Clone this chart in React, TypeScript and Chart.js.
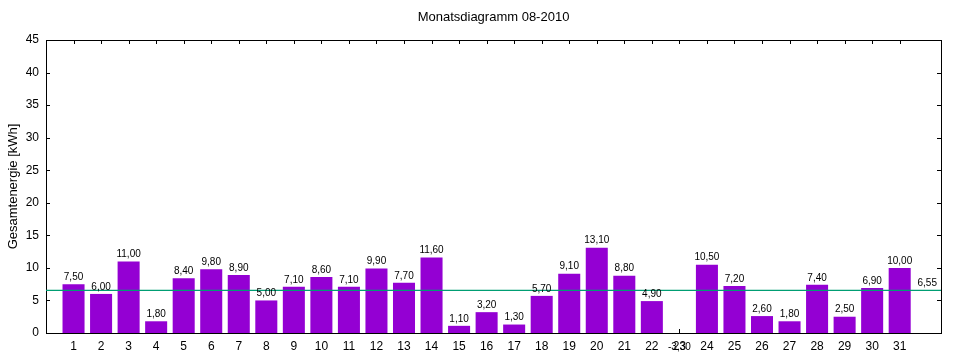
import React, { useEffect, useRef } from "react";
import { Chart, registerables } from "chart.js";

Chart.register(...registerables);

const TITLE = "Monatsdiagramm 08-2010";
const Y_TITLE = "Gesamtenergie [kWh]";
const DAYS = [1, 2, 3, 4, 5, 6, 7, 8, 9, 10, 11, 12, 13, 14, 15, 16, 17, 18, 19, 20, 21, 22, 23, 24, 25, 26, 27, 28, 29, 30, 31];
const ENERGY = [7.5, 6.0, 11.0, 1.8, 8.4, 9.8, 8.9, 5.0, 7.1, 8.6, 7.1, 9.9, 7.7, 11.6, 1.1, 3.2, 1.3, 5.7, 9.1, 13.1, 8.8, 4.9, -3.3, 10.5, 7.2, 2.6, 1.8, 7.4, 2.5, 6.9, 10.0];
const AVERAGE = 6.55;
const AVERAGE_LABEL_X = 32;
const X_MIN = 0;
const X_MAX = 32.5;
const Y_MIN = 0;
const Y_MAX = 45;
const Y_STEP = 5;

const FONT = "'Liberation Sans', Arial, sans-serif";
const fmt = (v: number) => v.toFixed(2).replace(".", ",");

const framePlugin = {
  id: "frame",
  beforeDatasetsDraw(chart: any) {
    const { ctx, chartArea: a, scales } = chart;
    ctx.save();
    ctx.strokeStyle = "#000";
    ctx.lineWidth = 1;
    ctx.beginPath();
    for (let v = Y_MIN; v <= Y_MAX; v += Y_STEP) {
      const y = Math.round(scales.y.getPixelForValue(v)) + 0.5;
      ctx.moveTo(a.left, y);
      ctx.lineTo(a.left + 4, y);
      ctx.moveTo(a.right, y);
      ctx.lineTo(a.right - 4, y);
    }
    for (const d of DAYS) {
      const x = Math.round(scales.x.getPixelForValue(d)) + 0.5;
      ctx.moveTo(x, a.top);
      ctx.lineTo(x, a.top + 4);
      ctx.moveTo(x, a.bottom);
      ctx.lineTo(x, a.bottom - 4);
    }
    ctx.stroke();
    ctx.strokeRect(Math.round(a.left) + 0.5, Math.round(a.top) + 0.5, Math.round(a.right - a.left), Math.round(a.bottom - a.top));
    ctx.restore();
  },
  afterDatasetsDraw(chart: any) {
    const { ctx, chartArea: a, scales } = chart;
    ctx.save();
    ctx.fillStyle = "#000";
    ctx.font = `10px ${FONT}`;
    ctx.textAlign = "center";
    ctx.textBaseline = "bottom";
    DAYS.forEach((d, i) => {
      const x = scales.x.getPixelForValue(d);
      const y = scales.y.getPixelForValue(ENERGY[i]);
      ctx.fillText(fmt(ENERGY[i]), x, y - 2);
    });
    ctx.fillText(fmt(AVERAGE), scales.x.getPixelForValue(AVERAGE_LABEL_X), scales.y.getPixelForValue(AVERAGE) - 2);
    ctx.font = `13px ${FONT}`;
    ctx.textBaseline = "middle";
    ctx.fillText(TITLE, (a.left + a.right) / 2, 17);
    ctx.translate(13, (a.top + a.bottom) / 2);
    ctx.rotate(-Math.PI / 2);
    ctx.fillText(Y_TITLE, 0, 0);
    ctx.restore();
  },
};

export default function App() {
  const ref = useRef<HTMLCanvasElement | null>(null);
  useEffect(() => {
    if (!ref.current) return;
    const chart = new Chart(ref.current, {
      type: "bar",
      data: {
        datasets: [
          {
            type: "line",
            data: [
              { x: X_MIN, y: AVERAGE },
              { x: X_MAX, y: AVERAGE },
            ],
            borderColor: "#009e73",
            borderWidth: 1.2,
            pointRadius: 0,
            order: 0,
          } as any,
          {
            type: "bar",
            data: DAYS.map((d, i) => ({ x: d, y: ENERGY[i] })),
            backgroundColor: "#9400d3",
            borderWidth: 0,
            barPercentage: 0.8,
            categoryPercentage: 1,
            order: 1,
          },
        ],
      },
      options: {
        animation: false,
        responsive: false,
        devicePixelRatio: 1,
        layout: { padding: { left: 0, top: 40, right: 19, bottom: 0 } },
        plugins: { legend: { display: false }, tooltip: { enabled: false }, title: { display: false } },
        scales: {
          x: {
            type: "linear",
            min: X_MIN,
            max: X_MAX,
            offset: false,
            grid: { display: false, drawTicks: false, offset: false },
            border: { display: false },
            ticks: {
              stepSize: 1,
              padding: 6,
              color: "#000",
              font: { family: FONT, size: 12 },
              maxRotation: 0,
              autoSkip: false,
              callback: (v: any) => (DAYS.includes(Number(v)) ? String(v) : null),
            },
            afterFit: (s: any) => {
              s.height = 27;
            },
          },
          y: {
            min: Y_MIN,
            max: Y_MAX,
            grid: { display: false, drawTicks: false },
            border: { display: false },
            ticks: {
              stepSize: Y_STEP,
              padding: 7,
              color: "#000",
              font: { family: FONT, size: 12 },
            },
            afterFit: (s: any) => {
              s.width = 46;
            },
          },
        },
      },
      plugins: [framePlugin],
    });
    return () => chart.destroy();
  }, []);
  return (
    <div style={{ position: "absolute", left: 0, top: 0, width: 960, height: 360, background: "#fff" }}>
      <canvas ref={ref} width={960} height={360} />
    </div>
  );
}
